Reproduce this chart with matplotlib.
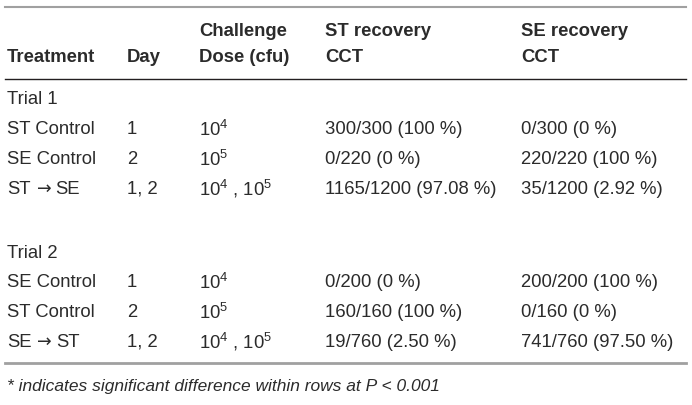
import matplotlib.pyplot as plt

# table contents
header_1 = ["", "", "Challenge", "ST recovery", "SE recovery"]
header_2 = ["Treatment", "Day", "Dose (cfu)", "CCT", "CCT"]

trial_names = ["Trial 1", "Trial 2"]
treatments = [["ST Control", "SE Control", "ST \u2192 SE"],
              ["SE Control", "ST Control", "SE \u2192 ST"]]
days = [["1", "2", "1, 2"],
        ["1", "2", "1, 2"]]
doses = [["10$^{4}$", "10$^{5}$", "10$^{4}$ , 10$^{5}$"],
         ["10$^{4}$", "10$^{5}$", "10$^{4}$ , 10$^{5}$"]]
st_recovery = [["300/300 (100 %)", "0/220 (0 %)", "1165/1200 (97.08 %)"],
               ["0/200 (0 %)", "160/160 (100 %)", "19/760 (2.50 %)"]]
se_recovery = [["0/300 (0 %)", "220/220 (100 %)", "35/1200 (2.92 %)"],
               ["200/200 (100 %)", "0/160 (0 %)", "741/760 (97.50 %)"]]
footnote = "* indicates significant difference within rows at P < 0.001"

plt.rcParams['font.family'] = ['Liberation Sans', 'DejaVu Sans']
plt.rcParams['mathtext.fontset'] = 'custom'
plt.rcParams['mathtext.rm'] = 'Liberation Sans'
plt.rcParams['mathtext.it'] = 'Liberation Sans:italic'

W, H = 692, 406
fig = plt.figure(figsize=(W / 100, H / 100), dpi=100)
ax = fig.add_axes([0, 0, 1, 1])
ax.set_xlim(0, W)
ax.set_ylim(H, 0)
ax.axis('off')

col_x = [7, 127, 199, 325, 521]
fs = 13.3
txt = '#2b2b2b'
renderer = fig.canvas.get_renderer()


def put_cell(x, y, s):
    # arrows look better from DejaVu, so split the label around them
    if '\u2192' not in s:
        ax.text(x, y, s, fontsize=fs, color=txt, va='center')
        return
    left, right = s.split('\u2192')
    pieces = [(left.strip(), ['Liberation Sans'], fs, 0),
              ('\u2192', ['DejaVu Sans'], fs * 0.95, 6),
              (right.strip(), ['Liberation Sans'], fs, 4)]
    cx = x
    for part, fam, size, gap in pieces:
        cx += gap
        t = ax.text(cx, y, part, fontsize=size, family=fam, color=txt, va='center')
        bb = t.get_window_extent(renderer)
        cx += bb.width * W / fig.bbox.width


# rules
ax.plot([5, 686], [8, 8], color='#a0a0a0', lw=1.5)
ax.plot([5, 686], [80, 80], color='#231f20', lw=1.0)
ax.plot([5, 686], [364, 364], color='#a0a0a0', lw=2.0)

for x, h1, h2 in zip(col_x, header_1, header_2):
    ax.text(x, 32, h1, fontsize=fs, fontweight='bold', color=txt, va='center')
    ax.text(x, 58, h2, fontsize=fs, fontweight='bold', color=txt, va='center')

block_y = [100, 253]
step = 29.8
for b in range(2):
    y0 = block_y[b]
    ax.text(col_x[0], y0, trial_names[b], fontsize=fs, color=txt, va='center')
    for i in range(3):
        y = y0 + step * (i + 1)
        row = [treatments[b][i], days[b][i], doses[b][i],
               st_recovery[b][i], se_recovery[b][i]]
        for x, s in zip(col_x, row):
            put_cell(x, y, s)

ax.text(7, 387, footnote, fontsize=12.5, style='italic', color=txt, va='center')

fig.savefig('out.png', dpi=100)
